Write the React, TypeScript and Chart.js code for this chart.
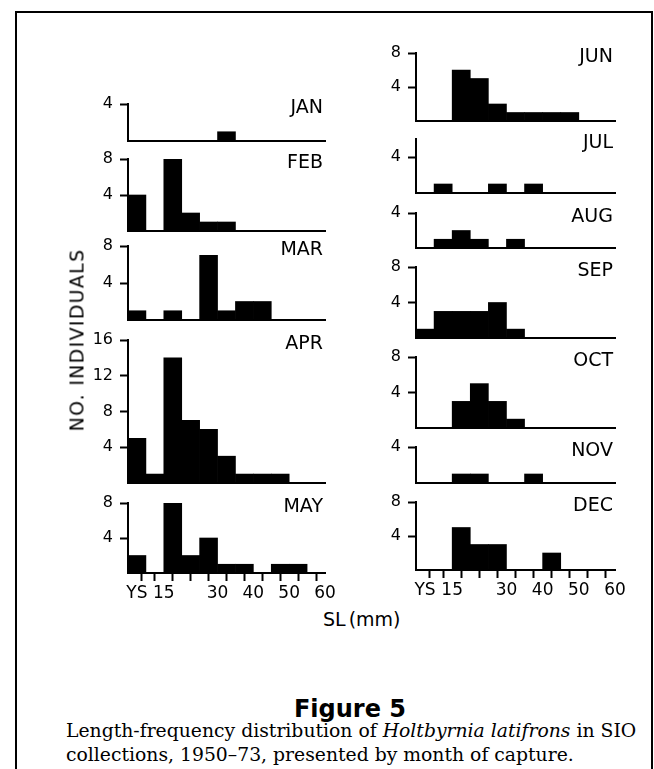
import React, { useEffect, useRef } from "react";
import { Chart, registerables } from "chart.js";

Chart.register(...registerables);

// Length bins (mm): YS, 10-15, 15-20, 20-25, 25-30, 30-35, 35-40, 40-45, 45-50, 50-55, 55-60
const BINS = ["YS", "10-15", "15-20", "20-25", "25-30", "30-35", "35-40", "40-45", "45-50", "50-55", "55-60"];

const JAN = [0, 0, 0, 0, 0, 1, 0, 0, 0, 0, 0];
const FEB = [4, 0, 8, 2, 1, 1, 0, 0, 0, 0, 0];
const MAR = [1, 0, 1, 0, 7, 1, 2, 2, 0, 0, 0];
const APR = [5, 1, 14, 7, 6, 3, 1, 1, 1, 0, 0];
const MAY = [2, 0, 8, 2, 4, 1, 1, 0, 1, 1, 0];
const JUN = [0, 0, 6, 5, 2, 1, 1, 1, 1, 0, 0];
const JUL = [0, 1, 0, 0, 1, 0, 1, 0, 0, 0, 0];
const AUG = [0, 1, 2, 1, 0, 1, 0, 0, 0, 0, 0];
const SEP = [1, 3, 3, 3, 4, 1, 0, 0, 0, 0, 0];
const OCT = [0, 0, 3, 5, 3, 1, 0, 0, 0, 0, 0];
const NOV = [0, 0, 1, 1, 0, 0, 1, 0, 0, 0, 0];
const DEC = [0, 0, 5, 3, 3, 0, 0, 2, 0, 0, 0];

// y-axis maxima per month
const Y_MAX = { JAN: 4, FEB: 8, MAR: 8, APR: 16, MAY: 8, JUN: 8, JUL: 6, AUG: 4, SEP: 8, OCT: 8, NOV: 4, DEC: 8 };

// x tick positions (bin boundaries) and labels
const X_TICK_VALUES = [0, 0.5, 1, 2, 3, 4, 5, 6, 7, 8, 9, 10, 11];
const X_TICK_LABELS: Record<string, string> = { "0.5": "YS", "2": "15", "5": "30", "7": "40", "9": "50", "11": "60" };

const MONTH_DATA: Record<string, number[]> = { JAN, FEB, MAR, APR, MAY, JUN, JUL, AUG, SEP, OCT, NOV, DEC };

// layout (pixels)
const LEFT_COL = { xL: 128, xR: 325 };
const RIGHT_COL = { xL: 416, xR: 615 };
const PANELS = [
  { m: "JAN", col: LEFT_COL, top: 104, base: 141, bottom: false },
  { m: "FEB", col: LEFT_COL, top: 159, base: 231, bottom: false },
  { m: "MAR", col: LEFT_COL, top: 246, base: 320, bottom: false },
  { m: "APR", col: LEFT_COL, top: 340, base: 483, bottom: false },
  { m: "MAY", col: LEFT_COL, top: 503, base: 573, bottom: true },
  { m: "JUN", col: RIGHT_COL, top: 53, base: 121, bottom: false },
  { m: "JUL", col: RIGHT_COL, top: 139, base: 193, bottom: false },
  { m: "AUG", col: RIGHT_COL, top: 213, base: 248, bottom: false },
  { m: "SEP", col: RIGHT_COL, top: 267, base: 338, bottom: false },
  { m: "OCT", col: RIGHT_COL, top: 357, base: 428, bottom: false },
  { m: "NOV", col: RIGHT_COL, top: 447, base: 483, bottom: false },
  { m: "DEC", col: RIGHT_COL, top: 502, base: 570, bottom: true },
];

const Y_AXIS_W = 45;
const PAD_TOP = 12;
const PAD_RIGHT = 14;
const FONT = "'DejaVu Sans', sans-serif";

function Panel({ p }: { p: any }) {
  const ref = useRef<HTMLCanvasElement>(null);
  const bottomH = p.bottom ? 34 : 4;
  const width = Y_AXIS_W + (p.col.xR - p.col.xL) + PAD_RIGHT;
  const height = PAD_TOP + (p.base - p.top) + bottomH;
  useEffect(() => {
    const values = MONTH_DATA[p.m];
    const max = (Y_MAX as any)[p.m];
    const yTicks: number[] = [];
    for (let v = 0; v <= max; v += 2) yTicks.push(v);
    const chart = new Chart(ref.current!, {
      type: "bar",
      data: {
        labels: BINS,
        datasets: [
          {
            label: p.m,
            data: values.map((v, i) => ({ x: i + 0.5, y: v })),
            backgroundColor: "#000",
            borderWidth: 0,
            barThickness: "flex",
            barPercentage: 1,
            categoryPercentage: 1,
          } as any,
        ],
      },
      options: {
        animation: false,
        responsive: false,
        maintainAspectRatio: false,
        events: [],
        layout: { padding: { left: 0, right: PAD_RIGHT, top: PAD_TOP, bottom: 0 } },
        plugins: { legend: { display: false }, tooltip: { enabled: false }, title: { display: false } },
        scales: {
          x: {
            type: "linear",
            min: 0,
            max: BINS.length,
            offset: false,
            afterBuildTicks: (s: any) => {
              s.ticks = X_TICK_VALUES.map((v) => ({ value: v }));
            },
            afterFit: (s: any) => {
              s.height = bottomH;
              s.paddingLeft = 0;
              s.paddingRight = 0;
              s.paddingTop = 0;
              s.paddingBottom = 0;
            },
            grid: {
              display: true,
              drawOnChartArea: false,
              drawTicks: p.bottom,
              tickLength: 8,
              tickWidth: 2,
              tickColor: (ctx: any) =>
                ctx.tick && Number.isInteger(ctx.tick.value) ? "#000" : "rgba(0,0,0,0)",
            },
            border: { display: true, color: "#000", width: 2 },
            ticks: {
              display: p.bottom,
              autoSkip: false,
              maxRotation: 0,
              minRotation: 0,
              padding: 2,
              color: "#000",
              font: { family: FONT, size: 17 },
              callback: (v: any) => X_TICK_LABELS[String(v)] ?? "",
            },
          },
          y: {
            type: "linear",
            min: 0,
            max: max,
            afterBuildTicks: (s: any) => {
              s.ticks = yTicks.map((v) => ({ value: v }));
            },
            afterFit: (s: any) => {
              s.width = Y_AXIS_W;
              s.paddingLeft = 0;
              s.paddingRight = 0;
              s.paddingTop = 0;
              s.paddingBottom = 0;
            },
            grid: {
              display: true,
              drawOnChartArea: false,
              drawTicks: true,
              tickLength: 8,
              tickWidth: 2,
              tickColor: (ctx: any) => (ctx.tick && ctx.tick.value === 0 ? "rgba(0,0,0,0)" : "#000"),
            },
            border: { display: true, color: "#000", width: 2 },
            ticks: {
              padding: 7,
              color: "#000",
              font: { family: FONT, size: 16 },
              callback: (v: any) => (v > 0 && v % 4 === 0 ? String(v) : ""),
            },
          },
        },
      } as any,
    });
    return () => chart.destroy();
  }, []);
  return (
    <>
      <canvas
        ref={ref}
        width={width}
        height={height}
        style={{
          position: "absolute",
          left: p.col.xL - Y_AXIS_W,
          top: p.top - PAD_TOP,
          width,
          height,
        }}
      />
      <div
        style={{
          position: "absolute",
          left: p.col.xR - 150,
          width: 148,
          top: p.top - 7,
          textAlign: "right",
          fontFamily: FONT,
          fontSize: 19,
          lineHeight: 1,
          color: "#000",
          whiteSpace: "nowrap",
        }}
      >
        {p.m}
      </div>
    </>
  );
}

export default function App() {
  return (
    <div
      style={{
        position: "absolute",
        left: 0,
        top: 0,
        width: 654,
        height: 769,
        background: "#fff",
        overflow: "hidden",
      }}
    >
      <div
        style={{
          position: "absolute",
          left: 15,
          top: 11,
          width: 634,
          height: 800,
          borderLeft: "2px solid #000",
          borderTop: "2px solid #000",
          borderRight: "2px solid #000",
        }}
      />
      {PANELS.map((p) => (
        <Panel key={p.m} p={p} />
      ))}
      <div
        style={{
          position: "absolute",
          left: 77,
          top: 340,
          transform: "translate(-50%, -50%) rotate(-90deg)",
          whiteSpace: "nowrap",
          fontFamily: FONT,
          fontSize: 19,
          letterSpacing: 1.3,
          lineHeight: 1,
          color: "#000",
        }}
      >
        NO. INDIVIDUALS
      </div>
      <div
        style={{
          position: "absolute",
          left: 323,
          top: 610,
          whiteSpace: "nowrap",
          fontFamily: FONT,
          fontSize: 19,
          wordSpacing: -3,
          lineHeight: 1,
          color: "#000",
        }}
      >
        SL (mm)
      </div>
      <div
        style={{
          position: "absolute",
          left: 250,
          width: 200,
          top: 697,
          textAlign: "center",
          fontFamily: FONT,
          fontWeight: "bold",
          fontSize: 24,
          lineHeight: 1,
          color: "#000",
        }}
      >
        Figure 5
      </div>
      <div
        style={{
          position: "absolute",
          left: 66,
          top: 719,
          whiteSpace: "nowrap",
          fontFamily: "'DejaVu Serif', serif",
          fontSize: 18.8,
          lineHeight: "24px",
          color: "#000",
        }}
      >
        Length-frequency distribution of <i>Holtbyrnia latifrons</i> in SIO
        <br />
        collections, 1950–73, presented by month of capture.
      </div>
    </div>
  );
}
